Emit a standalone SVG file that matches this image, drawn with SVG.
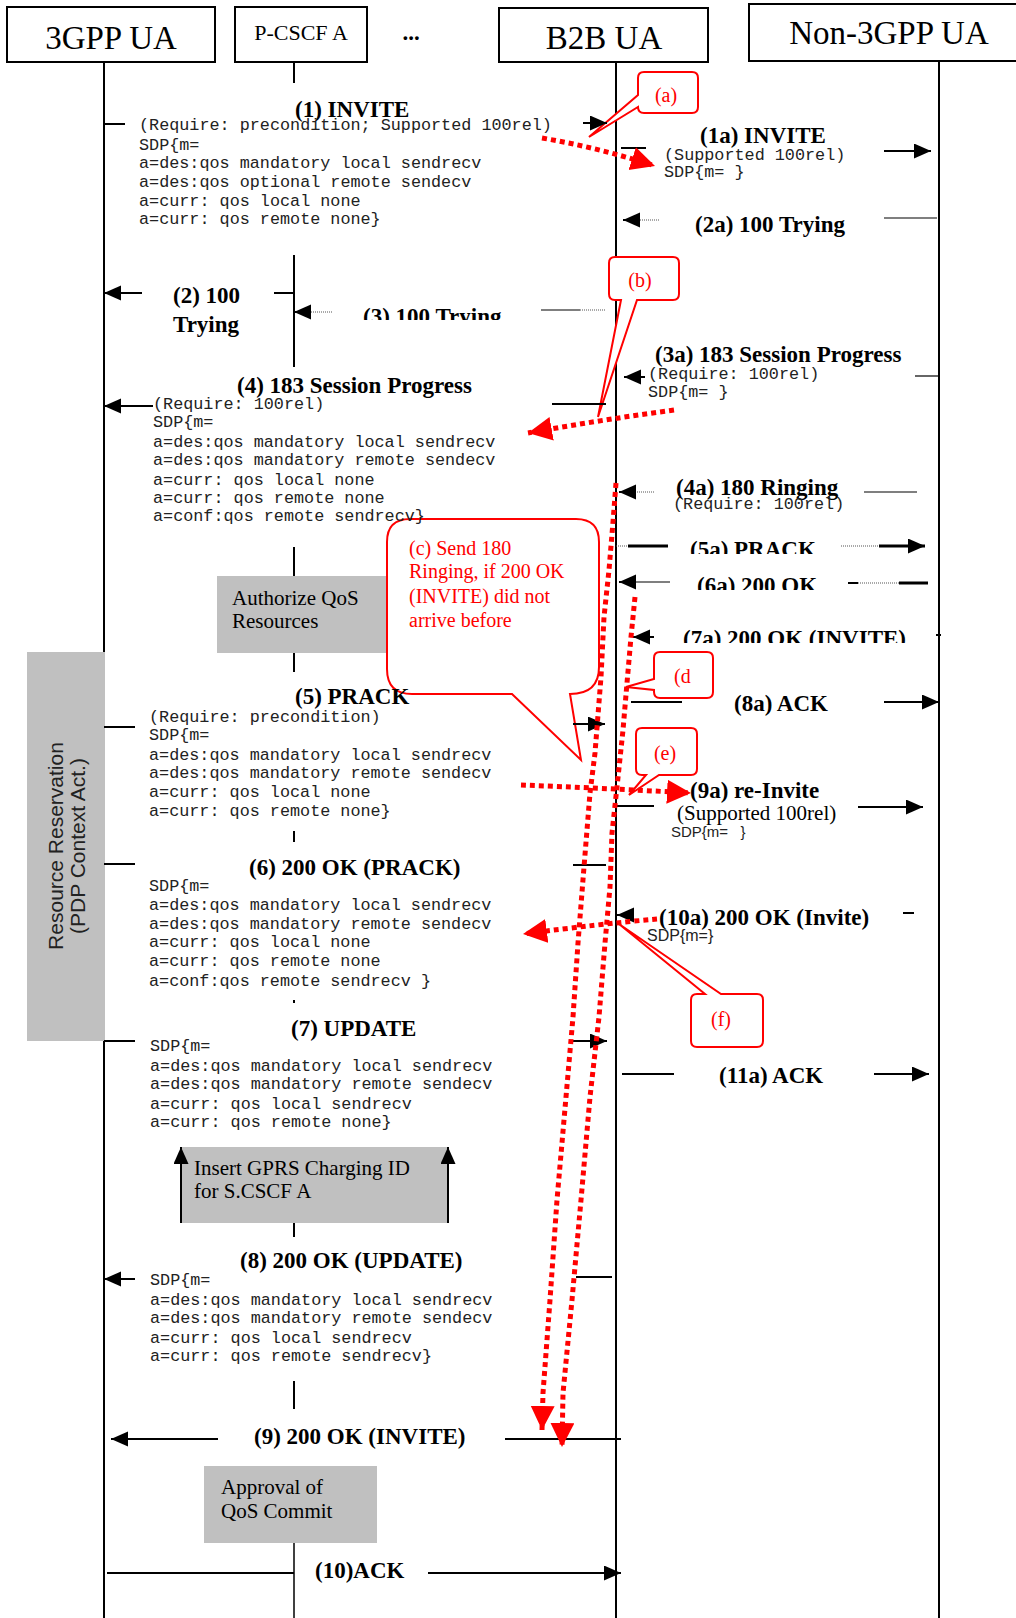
<svg xmlns="http://www.w3.org/2000/svg" width="1016" height="1618" viewBox="0 0 1016 1618">
<style>
.hdr{fill:#fff;stroke:#000;stroke-width:2}
.ll{stroke:#000;stroke-width:2;fill:none}
.m{stroke:#000;stroke-width:2;fill:none}
.mt{stroke:#000;stroke-width:1.2;fill:none}
.dt{stroke:#555;stroke-width:1.2;stroke-dasharray:1 1;fill:none}
.box{fill:#c0c0c0}
.lbl{font-family:"Liberation Serif",serif;font-weight:bold;font-size:23px;fill:#000}
.hd{font-family:"Liberation Serif",serif;font-size:33px;fill:#000}
.mono{font-family:"Liberation Mono",monospace;font-size:16.8px;fill:#222}
.ser{font-family:"Liberation Serif",serif;font-size:21px;fill:#000}
.sans{font-family:"Liberation Sans",sans-serif;fill:#222}
.co{fill:#fff;stroke:#f00;stroke-width:2}
.cot{font-family:"Liberation Serif",serif;font-size:20px;fill:#f00}
.rd{fill:none;stroke:#f00;stroke-width:5;stroke-dasharray:5 4}
</style>
<defs>
<marker id="ah" markerUnits="userSpaceOnUse" markerWidth="18" markerHeight="16" refX="17" refY="7.5" orient="auto"><path d="M0,0 L17,7.5 L0,15 Z" fill="#000"/></marker>
<marker id="rah" markerUnits="userSpaceOnUse" markerWidth="26" markerHeight="26" refX="24" refY="12" orient="auto"><path d="M0,0 L24,12 L0,24 Z" fill="#f00"/></marker>
<clipPath id="c3"><rect x="300" y="290" width="260" height="30"/></clipPath>
<clipPath id="c5a"><rect x="680" y="530" width="160" height="24"/></clipPath>
<clipPath id="c6a"><rect x="690" y="565" width="140" height="25"/></clipPath>
<clipPath id="c7a"><rect x="675" y="620" width="250" height="23"/></clipPath>
</defs>
<rect x="0" y="0" width="1016" height="1618" fill="#fff"/>

<g id="lifelines">
<path class="ll" d="M104,62 V652 M104,1041 V1618"/>
<path class="ll" d="M294,62 V83 M294,255 V367 M294,547 V576 M294,653 V672 M294,831 V842 M294,1000 V1003 M294,1223 V1237 M294,1381 V1409"/>
<path stroke="#000" stroke-width="1.5" d="M294,1543 V1618"/>
<path class="ll" d="M616,62 V1618"/>
<path class="ll" d="M939,61 V1618"/>
</g>

<g id="n-3gpp-ua"><rect class="hdr" x="7" y="7" width="208" height="55"/><text class="hd" x="111" y="49" text-anchor="middle">3GPP UA</text></g>
<g id="n-pcscf-a"><rect class="hdr" x="235" y="7" width="132" height="55"/><text class="hd" x="301" y="40" text-anchor="middle" style="font-size:22px">P-CSCF A</text></g>
<g id="n-dots"><text class="lbl" x="411" y="40" text-anchor="middle">...</text></g>
<g id="n-b2b-ua"><rect class="hdr" x="499" y="8" width="209" height="54"/><text class="hd" x="604" y="49" text-anchor="middle">B2B UA</text></g>
<g id="n-non3gpp-ua"><rect class="hdr" x="749" y="4" width="300" height="57"/><text class="hd" x="889" y="44" text-anchor="middle">Non-3GPP UA</text></g>

<g id="n-resource-reservation">
<rect class="box" x="27" y="652" width="78" height="389"/>
<text class="sans" style="font-size:21px" transform="translate(63,846) rotate(-90)" text-anchor="middle">Resource Reservation</text>
<text class="sans" style="font-size:21px" transform="translate(85,846) rotate(-90)" text-anchor="middle">(PDP Context Act.)</text>
</g>
<g id="n-authorize-qos">
<rect class="box" x="217" y="576" width="170" height="77"/>
<text class="ser" x="232" y="605">Authorize QoS</text>
<text class="ser" x="232" y="628">Resources</text>
</g>
<g id="n-insert-gprs">
<rect class="box" x="181" y="1147" width="267" height="76"/>
<line class="m" x1="181" y1="1223" x2="181" y2="1147" marker-end="url(#ah)"/>
<line class="m" x1="448" y1="1223" x2="448" y2="1147" marker-end="url(#ah)"/>
<text class="ser" x="194" y="1175">Insert GPRS Charging ID</text>
<text class="ser" x="194" y="1198">for S.CSCF A</text>
</g>
<g id="n-approval">
<rect class="box" x="204" y="1466" width="173" height="77"/>
<text class="ser" x="221" y="1494">Approval of</text>
<text class="ser" x="221" y="1518">QoS Commit</text>
</g>

<g id="n-callout-c">
<path class="co" d="M410,519 H576 Q599,519 599,542 V667 Q599,694 570,694 L581,760 L512,694 H412 Q387,694 387,669 V542 Q387,519 410,519 Z"/>
<text class="cot" x="409" y="555">(c) Send 180</text>
<text class="cot" x="409" y="578">Ringing, if 200 OK</text>
<text class="cot" x="409" y="603">(INVITE) did not</text>
<text class="cot" x="409" y="627">arrive before</text>
</g>
<g id="n-callout-a">
<path class="co" d="M644,72 H692 Q698,72 698,78 V107 Q698,113 692,113 H644 Q638,113 638,107 L589,137 L638,95 V78 Q638,72 644,72 Z"/>
<text class="cot" x="666" y="102" text-anchor="middle">(a)</text>
</g>
<g id="n-callout-b">
<path class="co" d="M615,257 H673 Q679,257 679,263 V294 Q679,300 673,300 H637 L598,417 L621,300 H615 Q609,300 609,294 V263 Q609,257 615,257 Z"/>
<text class="cot" x="640" y="287" text-anchor="middle">(b)</text>
</g>
<g id="n-callout-d">
<path class="co" d="M660,652 H707 Q713,652 713,658 V692 Q713,698 707,698 H660 Q654,698 654,692 V690 L626,687 L654,679 V658 Q654,652 660,652 Z"/>
<text class="cot" x="674" y="683">(d</text>
</g>
<g id="n-callout-e">
<path class="co" d="M642,728 H691 Q697,728 697,734 V769 Q697,775 691,775 H659 L629,795 L646,775 H642 Q636,775 636,769 V734 Q636,728 642,728 Z"/>
<text class="cot" x="665" y="760" text-anchor="middle">(e)</text>
</g>
<g id="n-callout-f">
<path class="co" d="M697,994 H705 L619,924 L721,994 H757 Q763,994 763,1000 V1041 Q763,1047 757,1047 H697 Q691,1047 691,1041 V1000 Q691,994 697,994 Z"/>
<text class="cot" x="721" y="1026" text-anchor="middle">(f)</text>
</g>

<g id="connectors">
<!-- (1) -->
<line class="m" x1="104" y1="124" x2="125" y2="124"/>
<line class="m" x1="583" y1="123" x2="607" y2="123" marker-end="url(#ah)"/>
<!-- (1a) -->
<line class="m" x1="621" y1="148" x2="646" y2="148"/>
<line class="m" x1="884" y1="151" x2="931" y2="151" marker-end="url(#ah)"/>
<!-- (2a) -->
<line class="mt" x1="884" y1="218" x2="937" y2="218"/>
<line class="dt" x1="659" y1="220" x2="638" y2="220"/>
<line class="m" x1="640" y1="220" x2="623" y2="220" marker-end="url(#ah)"/>
<!-- (2) -->
<line class="m" x1="142" y1="293" x2="104" y2="293" marker-end="url(#ah)"/>
<line class="m" x1="274" y1="293" x2="294" y2="293"/>
<!-- (3) -->
<line class="dt" x1="332" y1="312" x2="310" y2="312"/>
<line class="m" x1="311" y1="312" x2="294" y2="312" marker-end="url(#ah)"/>
<line class="mt" x1="541" y1="310" x2="580" y2="310"/>
<line class="dt" x1="580" y1="310" x2="605" y2="310"/>
<!-- (3a) -->
<line class="m" x1="645" y1="377" x2="624" y2="377" marker-end="url(#ah)"/>
<line class="mt" x1="915" y1="376" x2="938" y2="376"/>
<!-- (4) -->
<line class="m" x1="153" y1="406" x2="104" y2="406" marker-end="url(#ah)"/>
<line class="m" x1="552" y1="404" x2="606" y2="404"/>
<!-- (4a) -->
<line class="dt" x1="654" y1="492" x2="634" y2="492"/>
<line class="m" x1="636" y1="492" x2="619" y2="492" marker-end="url(#ah)"/>
<line class="mt" x1="864" y1="492" x2="917" y2="492"/>
<!-- (5a) -->
<line class="dt" x1="616" y1="546" x2="628" y2="546"/>
<line stroke="#000" stroke-width="3" x1="628" y1="546" x2="668" y2="546"/>
<line class="dt" x1="841" y1="546" x2="880" y2="546"/>
<line stroke="#000" stroke-width="3" x1="879" y1="546" x2="925" y2="546" marker-end="url(#ah)"/>
<!-- (6a) -->
<line class="mt" x1="634" y1="582" x2="670" y2="582"/>
<line class="m" x1="636" y1="582" x2="619" y2="582" marker-end="url(#ah)"/>
<line class="m" x1="848" y1="583" x2="858" y2="583"/>
<line class="dt" x1="858" y1="583" x2="899" y2="583"/>
<line stroke="#000" stroke-width="3" x1="899" y1="583" x2="928" y2="583"/>
<!-- (7a) -->
<line class="m" x1="654" y1="637" x2="633" y2="637" marker-end="url(#ah)"/>
<line class="m" x1="936" y1="635" x2="941" y2="635"/>
<!-- (8a) -->
<line class="m" x1="631" y1="702" x2="682" y2="702"/>
<line class="m" x1="884" y1="702" x2="939" y2="702" marker-end="url(#ah)"/>
<!-- (5) -->
<line class="m" x1="104" y1="727" x2="135" y2="727"/>
<line class="m" x1="573" y1="724" x2="605" y2="724" marker-end="url(#ah)"/>
<!-- (9a) -->
<line class="m" x1="617" y1="806" x2="654" y2="806"/>
<line class="m" x1="858" y1="807" x2="923" y2="807" marker-end="url(#ah)"/>
<!-- (6) -->
<line class="m" x1="104" y1="864" x2="135" y2="864"/>
<line class="m" x1="573" y1="865" x2="606" y2="865"/>
<!-- (10a) -->
<line class="m" x1="633" y1="915" x2="617" y2="915" marker-end="url(#ah)"/>
<line class="m" x1="903" y1="913" x2="914" y2="913"/>
<!-- (7) -->
<line class="m" x1="104" y1="1041" x2="135" y2="1041"/>
<line class="m" x1="573" y1="1041" x2="607" y2="1041" marker-end="url(#ah)"/>
<!-- (11a) -->
<line class="m" x1="622" y1="1074" x2="674" y2="1074"/>
<line class="m" x1="874" y1="1074" x2="929" y2="1074" marker-end="url(#ah)"/>
<!-- (8) -->
<line class="m" x1="135" y1="1279" x2="104" y2="1279" marker-end="url(#ah)"/>
<line class="m" x1="576" y1="1277" x2="612" y2="1277"/>
<!-- (9) -->
<line class="m" x1="218" y1="1439" x2="111" y2="1439" marker-end="url(#ah)"/>
<line class="m" x1="505" y1="1439" x2="621" y2="1439"/>
<!-- (10) -->
<line class="m" x1="107" y1="1573" x2="294" y2="1573"/>
<line class="m" x1="428" y1="1573" x2="621" y2="1573" marker-end="url(#ah)"/>
</g>

<g id="labels">
<text class="lbl" x="295" y="117">(1) INVITE</text>
<text class="lbl" x="700" y="143">(1a) INVITE</text>
<text class="lbl" x="695" y="232">(2a) 100 Trying</text>
<text class="lbl" x="173" y="303">(2) 100</text>
<text class="lbl" x="173" y="332">Trying</text>
<text class="lbl" x="363" y="324" clip-path="url(#c3)">(3) 100 Trying</text>
<text class="lbl" x="655" y="362">(3a) 183 Session Progress</text>
<text class="lbl" x="237" y="393">(4) 183 Session Progress</text>
<text class="lbl" x="676" y="495">(4a) 180 Ringing</text>
<text class="lbl" x="690" y="557" clip-path="url(#c5a)">(5a) PRACK</text>
<text class="lbl" x="697" y="593" clip-path="url(#c6a)">(6a) 200 OK</text>
<text class="lbl" x="683" y="646" clip-path="url(#c7a)">(7a) 200 OK (INVITE)</text>
<text class="lbl" x="734" y="711">(8a) ACK</text>
<text class="lbl" x="295" y="704">(5) PRACK</text>
<text class="lbl" x="690" y="798">(9a) re-Invite</text>
<text class="ser" x="677" y="820">(Supported 100rel)</text>
<text class="sans" x="671" y="837" style="font-size:15px" xml:space="preserve">SDP{m=   }</text>
<text class="lbl" x="249" y="875">(6) 200 OK (PRACK)</text>
<text class="lbl" x="659" y="925">(10a) 200 OK (Invite)</text>
<text class="sans" x="647" y="941" style="font-size:16px">SDP{m=}</text>
<text class="lbl" x="291" y="1036">(7) UPDATE</text>
<text class="lbl" x="719" y="1083">(11a) ACK</text>
<text class="lbl" x="240" y="1268">(8) 200 OK (UPDATE)</text>
<text class="lbl" x="254" y="1444">(9) 200 OK (INVITE)</text>
<text class="lbl" x="315" y="1578">(10)ACK</text>

<g class="mono">
<text x="139" y="130">(Require: precondition; Supported 100rel)</text>
<text x="139" y="150">SDP{m=</text>
<text x="139" y="168">a=des:qos mandatory local sendrecv</text>
<text x="139" y="187">a=des:qos optional remote sendecv</text>
<text x="139" y="206">a=curr: qos local none</text>
<text x="139" y="224">a=curr: qos remote none}</text>

<text x="664" y="160">(Supported 100rel)</text>
<text x="664" y="177">SDP{m= }</text>

<text x="648" y="379">(Require: 100rel)</text>
<text x="648" y="397">SDP{m= }</text>

<text x="153" y="409">(Require: 100rel)</text>
<text x="153" y="427">SDP{m=</text>
<text x="153" y="447">a=des:qos mandatory local sendrecv</text>
<text x="153" y="465">a=des:qos mandatory remote sendecv</text>
<text x="153" y="485">a=curr: qos local none</text>
<text x="153" y="503">a=curr: qos remote none</text>
<text x="153" y="521">a=conf:qos remote sendrecv}</text>

<text x="673" y="509">(Require: 100rel)</text>

<text x="149" y="722">(Require: precondition)</text>
<text x="149" y="740">SDP{m=</text>
<text x="149" y="760">a=des:qos mandatory local sendrecv</text>
<text x="149" y="778">a=des:qos mandatory remote sendecv</text>
<text x="149" y="797">a=curr: qos local none</text>
<text x="149" y="816">a=curr: qos remote none}</text>

<text x="149" y="891">SDP{m=</text>
<text x="149" y="910">a=des:qos mandatory local sendrecv</text>
<text x="149" y="929">a=des:qos mandatory remote sendecv</text>
<text x="149" y="947">a=curr: qos local none</text>
<text x="149" y="966">a=curr: qos remote none</text>
<text x="149" y="986">a=conf:qos remote sendrecv }</text>

<text x="150" y="1051">SDP{m=</text>
<text x="150" y="1071">a=des:qos mandatory local sendrecv</text>
<text x="150" y="1089">a=des:qos mandatory remote sendecv</text>
<text x="150" y="1109">a=curr: qos local sendrecv</text>
<text x="150" y="1127">a=curr: qos remote none}</text>

<text x="150" y="1285">SDP{m=</text>
<text x="150" y="1305">a=des:qos mandatory local sendrecv</text>
<text x="150" y="1323">a=des:qos mandatory remote sendecv</text>
<text x="150" y="1343">a=curr: qos local sendrecv</text>
<text x="150" y="1361">a=curr: qos remote sendrecv}</text>
</g>
</g>

<g id="red-annotations">
<path class="rd" d="M542,138 Q600,148 655,166" marker-end="url(#rah)"/>
<path class="rd" d="M674,410 Q600,420 528,433" marker-end="url(#rah)"/>
<path class="rd" d="M521,785 Q600,788 691,793" marker-end="url(#rah)"/>
<path class="rd" d="M657,919 Q600,924 523,934" marker-end="url(#rah)"/>
<path class="rd" stroke-linejoin="round" d="M616,483 L613,522 L609,570 L604,617 L601,677 L595,753 L590,793 L584,867 L578,943 L573,1017 L566,1097 L557,1200 L550,1300 L543,1393 L542,1430" marker-end="url(#rah)"/>
<path class="rd" stroke-linejoin="round" d="M635,597 L631,637 L627,683 L623,730 L617,787 L612,833 L610,887 L605,943 L599,1017 L590,1097 L581,1200 L572,1300 L563,1393 L562,1447" marker-end="url(#rah)"/>
</g>
</svg>
